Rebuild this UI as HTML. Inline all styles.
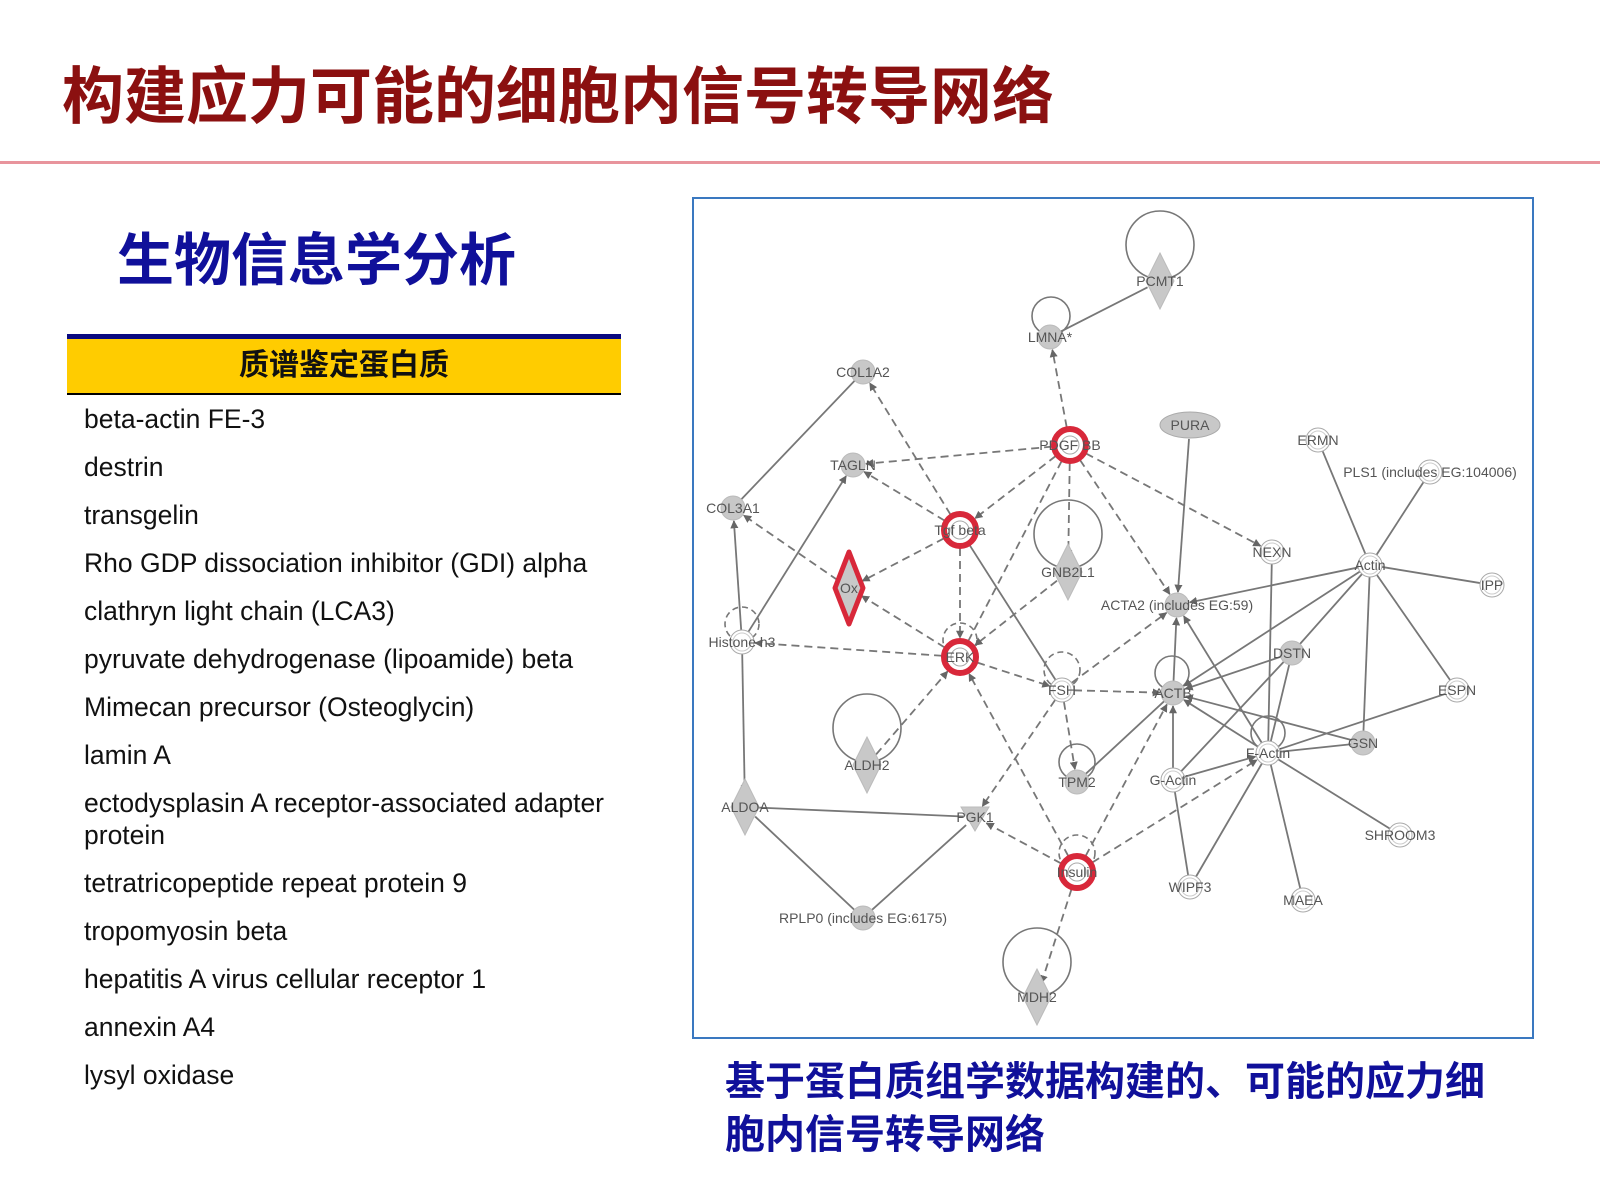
<!DOCTYPE html>
<html><head><meta charset="utf-8">
<style>
html,body{margin:0;padding:0;background:#fff;}
body{width:1600px;height:1200px;position:relative;overflow:hidden;font-family:"Liberation Sans","Noto Sans CJK SC",sans-serif;}
.t{position:absolute;white-space:nowrap;}
#title{left:62px;top:62px;font-size:62px;line-height:72px;color:#8b1010;font-weight:bold;}
#rule{position:absolute;left:0;top:161px;width:1600px;height:3px;background:#e8949c;}
#sub{left:117px;top:228px;font-size:57px;line-height:66px;color:#10109a;font-weight:bold;}
#tbl-top{position:absolute;left:67px;top:334px;width:554px;height:5px;background:#0a0a80;}
#tbl-hd{position:absolute;left:67px;top:339px;width:554px;height:54px;background:#ffcc00;border-bottom:2px solid #000;text-align:center;font-size:30px;line-height:54px;color:#111;font-weight:bold;}
.li{position:absolute;left:84px;font-size:26.5px;line-height:32px;color:#111;}
#frame{position:absolute;left:692px;top:197px;width:838px;height:838px;border:2.5px solid #3a78c0;}
#cap{left:725px;top:1056px;font-size:40px;line-height:53px;color:#10109a;font-weight:bold;}
</style></head><body>
<div class="t" id="title">构建应力可能的细胞内信号转导网络</div>
<div id="rule"></div>
<div class="t" id="sub">生物信息学分析</div>
<div id="tbl-top"></div>
<div id="tbl-hd">质谱鉴定蛋白质</div>
<div class="li" style="top:403px">beta-actin FE-3</div>
<div class="li" style="top:451px">destrin</div>
<div class="li" style="top:499px">transgelin</div>
<div class="li" style="top:547px">Rho GDP dissociation inhibitor (GDI) alpha</div>
<div class="li" style="top:595px">clathryn light chain (LCA3)</div>
<div class="li" style="top:643px">pyruvate dehydrogenase (lipoamide) beta</div>
<div class="li" style="top:691px">Mimecan precursor (Osteoglycin)</div>
<div class="li" style="top:739px">lamin A</div>
<div class="li" style="top:787px">ectodysplasin A receptor-associated adapter</div>
<div class="li" style="top:819px">protein</div>
<div class="li" style="top:867px">tetratricopeptide repeat protein 9</div>
<div class="li" style="top:915px">tropomyosin beta</div>
<div class="li" style="top:963px">hepatitis A virus cellular receptor 1</div>
<div class="li" style="top:1011px">annexin A4</div>
<div class="li" style="top:1059px">lysyl oxidase</div>
<div id="frame"></div>
<div class="t" id="cap">基于蛋白质组学数据构建的、可能的应力细<br>胞内信号转导网络</div>
<svg id="net" width="1600" height="1200" style="position:absolute;left:0;top:0" xmlns="http://www.w3.org/2000/svg">
<defs><marker id="ar" viewBox="0 0 10 10" refX="9" refY="5" markerWidth="4.5" markerHeight="4.5" orient="auto"><path d="M0,0L10,5L0,10z" fill="#666"/></marker></defs>
<g id="loops" fill="none" stroke="#777" stroke-width="1.6"></g>
<g id="edges" fill="none" stroke="#777" stroke-width="1.8"></g>
<g id="nodes"></g>
<g id="labels" font-family="Liberation Sans, sans-serif" font-size="14" fill="#555" text-anchor="middle"></g>
</svg>
<script>
var N={
PCMT1:[1160,281,'d','PCMT1'],LMNA:[1050,337,'g','LMNA*'],COL1A2:[863,372,'g','COL1A2'],TAGLN:[853,465,'g','TAGLN'],
COL3A1:[733,508,'g','COL3A1'],TGF:[960,530,'r','Tgf beta'],PDGF:[1070,445,'r','PDGF BB'],GNB:[1068,572,'d','GNB2L1'],
OX:[849,588,'rd','Ox'],HIS:[742,642,'w','Histone h3'],ERK:[960,657,'r','ERK'],FSH:[1062,690,'w','FSH'],
ALDH2:[867,765,'d','ALDH2'],ALDOA:[745,807,'d','ALDOA'],PGK1:[975,817,'tri','PGK1'],TPM2:[1077,782,'g','TPM2'],
INS:[1077,872,'r','Insulin'],RPLP0:[863,918,'g','RPLP0 (includes EG:6175)'],MDH2:[1037,997,'d','MDH2'],
PURA:[1190,425,'e','PURA'],ERMN:[1318,440,'w','ERMN'],PLS1:[1430,472,'w','PLS1 (includes EG:104006)'],NEXN:[1272,552,'w','NEXN'],
ACTIN:[1370,565,'w','Actin'],IPP:[1492,585,'w','IPP'],ACTA2:[1177,605,'g','ACTA2 (includes EG:59)'],DSTN:[1292,653,'g','DSTN'],
ESPN:[1457,690,'w','ESPN'],ACTB:[1173,693,'g','ACTB'],GSN:[1363,743,'g','GSN'],FACT:[1268,753,'w','F-Actin'],
GACT:[1173,780,'w','G-Actin'],SHR:[1400,835,'w','SHROOM3'],WIPF:[1190,887,'w','WIPF3'],MAEA:[1303,900,'w','MAEA']};
var LO={};
var E=[['PCMT1','LMNA',0,0],['COL1A2','COL3A1',0,0],['HIS','COL3A1',0,1],['HIS','TAGLN',0,1],['HIS','ALDOA',0,1],
['ALDOA','PGK1',0,0],['ALDOA','RPLP0',0,0],['RPLP0','PGK1',0,0],['TGF','FSH',0,0],['PURA','ACTA2',0,1],['NEXN','FACT',0,0],
['ACTIN','ERMN',0,0],['ACTIN','PLS1',0,0],['ACTIN','IPP',0,0],['ACTIN','ESPN',0,0],['ACTIN','GSN',0,0],['ACTIN','DSTN',0,0],
['ACTIN','ACTA2',0,1],['ACTIN','ACTB',0,1],['DSTN','ACTB',0,1],['DSTN','GACT',0,0],['DSTN','FACT',0,0],['ACTB','ACTA2',0,1],
['GACT','ACTB',0,1],['FACT','ACTB',0,1],['FACT','ACTA2',0,1],['GSN','ACTB',0,1],['GSN','FACT',0,0],['ESPN','FACT',0,0],
['GACT','FACT',0,1],['FACT','WIPF',0,0],['WIPF','GACT',0,0],['FACT','MAEA',0,0],['FACT','SHR',0,0],['TPM2','ACTB',0,0],
['PDGF','LMNA',1,1],['PDGF','TAGLN',1,1],['PDGF','TGF',1,1],['PDGF','GNB',1,1],['PDGF','NEXN',1,1],['PDGF','ACTA2',1,1],
['PDGF','ERK',1,0],['TGF','COL1A2',1,1],['TGF','TAGLN',1,1],['TGF','OX',1,1],['TGF','ERK',1,1],['OX','COL3A1',1,1],
['ERK','OX',1,1],['ERK','HIS',1,1],['ERK','FSH',1,1],['ALDH2','ERK',1,1],['GNB','ERK',1,1],['INS','ERK',1,1],
['FSH','PGK1',1,1],['FSH','TPM2',1,1],['FSH','ACTA2',1,1],['FSH','ACTB',1,1],['INS','PGK1',1,1],['INS','ACTB',1,1],
['INS','MDH2',1,1],['INS','FACT',1,1]];
var ns='http://www.w3.org/2000/svg';
function el(t,a,p){var e=document.createElementNS(ns,t);for(var k in a)e.setAttribute(k,a[k]);document.getElementById(p).appendChild(e);return e;}
function rad(n){var t=N[n][2];return t=='r'?18:t=='rd'?14:t=='d'?14:t=='e'?14:t=='tri'?12:12;}
E.forEach(function(e){var a=N[e[0]],b=N[e[1]];var dx=b[0]-a[0],dy=b[1]-a[1],L=Math.sqrt(dx*dx+dy*dy);
var ra=rad(e[0]),rb=rad(e[1])+(e[3]?1:0);
var x1=a[0]+dx*ra/L,y1=a[1]+dy*ra/L,x2=b[0]-dx*rb/L,y2=b[1]-dy*rb/L;
var at={x1:x1,y1:y1,x2:x2,y2:y2};if(e[2])at['stroke-dasharray']='8,5';if(e[3])at['marker-end']='url(#ar)';el('line',at,'edges');});
[[1160,245,34,0],[1051,316,19,0],[1068,534,34,0],[867,728,34,0],[1037,962,34,0],[1077,762,18,0],[1172,673,17,0],[1268,733,17,0],
[742,624,17,1],[960,640,17,1],[1062,670,18,1],[1077,853,18,1]].forEach(function(l){var a={cx:l[0],cy:l[1],r:l[2]};if(l[3])a['stroke-dasharray']='6,4';el('circle',a,'loops');});
for(var k in N){var n=N[k],x=n[0],y=n[1],t=n[2];
if(t=='g')el('circle',{cx:x,cy:y,r:12,fill:'#c8c8c8',stroke:'#bbb'},'nodes');
else if(t=='w'){el('circle',{cx:x,cy:y,r:12,fill:'#fff',stroke:'#aaa'},'nodes');el('circle',{cx:x,cy:y,r:9,fill:'none',stroke:'#ccc'},'nodes');}
else if(t=='r'){el('circle',{cx:x,cy:y,r:16,fill:'#fff',stroke:'#d8283a','stroke-width':6},'nodes');el('circle',{cx:x,cy:y,r:9,fill:'none',stroke:'#aaa'},'nodes');}
else if(t=='d')el('path',{d:'M'+x+','+(y-28)+'L'+(x+14)+','+y+'L'+x+','+(y+28)+'L'+(x-14)+','+y+'Z',fill:'#c8c8c8',stroke:'#bbb'},'nodes');
else if(t=='rd')el('path',{d:'M'+x+','+(y-36)+'L'+(x+14)+','+y+'L'+x+','+(y+36)+'L'+(x-14)+','+y+'Z',fill:'#c8c8c8',stroke:'#d8283a','stroke-width':5,'stroke-linejoin':'round'},'nodes');
else if(t=='e')el('ellipse',{cx:x,cy:y,rx:30,ry:13,fill:'#c8c8c8',stroke:'#aaa'},'nodes');
else if(t=='tri')el('path',{d:'M'+(x-14)+','+(y-10)+'L'+(x+14)+','+(y-10)+'L'+x+','+(y+14)+'Z',fill:'#c8c8c8',stroke:'#bbb'},'nodes');
var o=LO[k]||[0,0];var tx=el('text',{x:x+o[0],y:y+5+o[1]},'labels');tx.textContent=n[3];}
</script>
</body></html>
